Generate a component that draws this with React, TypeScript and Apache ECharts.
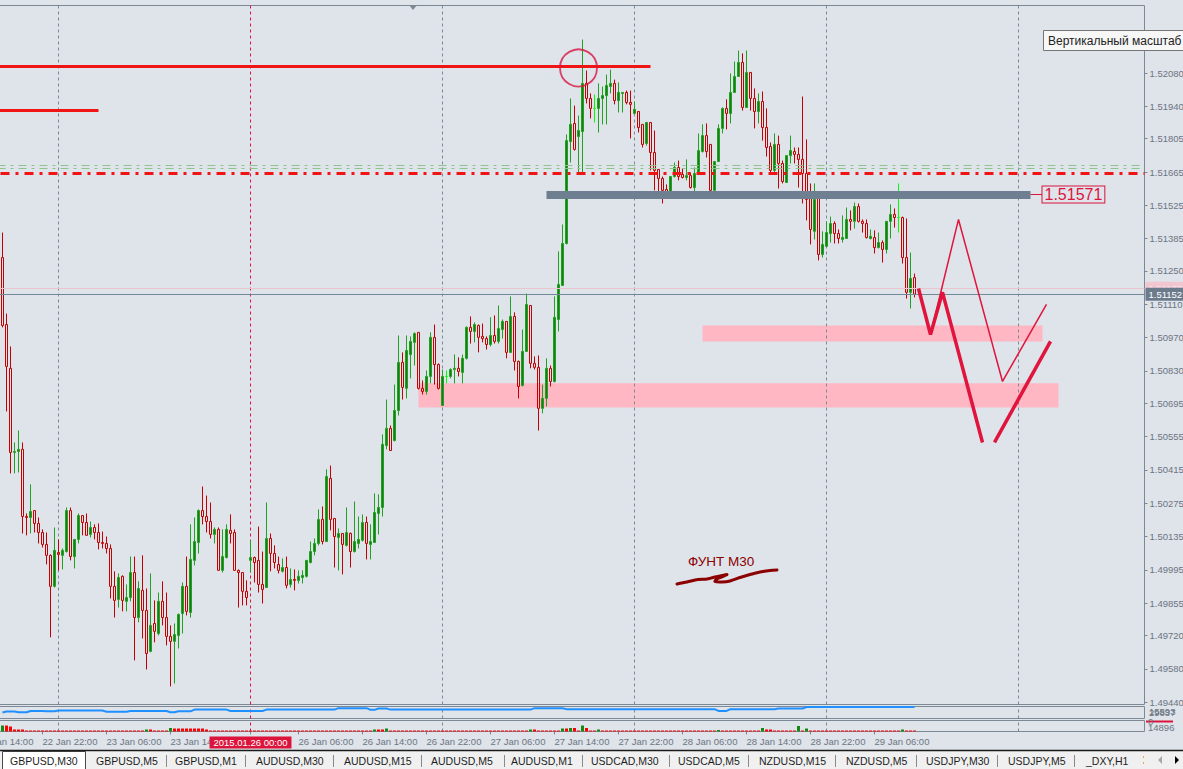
import React, { useEffect, useRef } from "react";
import * as echarts from "echarts";

const OX = 24; // the chart container starts 24px left of the page so that the cut "22 Jan 14:00" label can exist
const LEAD = 6; // empty slots before the first candle
const TOTAL = 292; // category slots (4px each)

const FONT = "'Liberation Sans', Arial, sans-serif";
const C_BG = "#dfe3ea";
const C_FRAME = "#7d8895";
const C_TEXT = "#6b7581";

// right price scale tick labels
const priceTickLabels = [
  "1.52080", "1.51940", "1.51805", "1.51665", "1.51525", "1.51385", "1.51250",
  "1.51110", "1.50970", "1.50830", "1.50695", "1.50555", "1.50415", "1.50275",
  "1.50135", "1.49995", "1.49855", "1.49720", "1.49580", "1.49440",
];
const priceMin = 1.4943;
const priceMax = 1.52364;

// GBPUSD M30 candles [open, close, low, high], first candle = 22 Jan 17:00
const ohlc: number[][] = [
  [1.51306,1.51021,1.51013,1.51411],[1.51025,1.50849,1.50660,1.51071],[1.50841,1.50488,1.50400,1.50933],[1.50488,1.50492,1.50400,1.50530],
  [1.50492,1.50501,1.50404,1.50580],[1.50501,1.50219,1.50148,1.50530],[1.50219,1.50215,1.50140,1.50232],[1.50215,1.50240,1.50148,1.50354],
  [1.50244,1.50190,1.50152,1.50244],[1.50190,1.50152,1.50106,1.50215],[1.50152,1.50102,1.50089,1.50165],[1.50102,1.50056,1.50018,1.50152],
  [1.50056,1.49926,1.49712,1.50060],[1.49926,1.50077,1.49921,1.50173],[1.50068,1.50060,1.49993,1.50123],[1.50056,1.50077,1.49997,1.50085],
  [1.50072,1.50244,1.50068,1.50257],[1.50244,1.50051,1.50035,1.50257],[1.50051,1.50123,1.50001,1.50123],[1.50123,1.50223,1.50106,1.50232],
  [1.50223,1.50194,1.50140,1.50223],[1.50194,1.50140,1.50140,1.50232],[1.50144,1.50173,1.50131,1.50198],[1.50173,1.50152,1.50123,1.50186],
  [1.50152,1.50110,1.50081,1.50190],[1.50110,1.50106,1.50085,1.50156],[1.50106,1.50085,1.50064,1.50135],[1.50085,1.49926,1.49875,1.50102],
  [1.49926,1.49867,1.49795,1.49989],[1.49871,1.49963,1.49837,1.49980],[1.49968,1.49867,1.49821,1.49972],[1.49863,1.49879,1.49821,1.49934],
  [1.49879,1.49984,1.49863,1.50051],[1.49984,1.49795,1.49615,1.50051],[1.49795,1.49917,1.49775,1.49947],[1.49909,1.49825,1.49707,1.50056],
  [1.49825,1.49644,1.49577,1.49917],[1.49653,1.49762,1.49649,1.49980],[1.49770,1.49737,1.49691,1.49867],[1.49728,1.49863,1.49720,1.49900],
  [1.49863,1.49795,1.49762,1.49947],[1.49795,1.49716,1.49678,1.49900],[1.49716,1.49695,1.49506,1.49762],[1.49695,1.49724,1.49518,1.49770],
  [1.49720,1.49808,1.49665,1.49812],[1.49812,1.49926,1.49728,1.49942],[1.49926,1.49821,1.49804,1.50051],[1.49816,1.50039,1.49795,1.50186],
  [1.50035,1.50114,1.50014,1.50215],[1.50110,1.50244,1.50064,1.50249],[1.50244,1.50219,1.50186,1.50345],[1.50219,1.50198,1.50152,1.50307],
  [1.50198,1.50144,1.50127,1.50278],[1.50144,1.50165,1.50106,1.50173],[1.50165,1.49993,1.49993,1.50173],[1.49993,1.50051,1.49984,1.50165],
  [1.50047,1.50165,1.50043,1.50186],[1.50161,1.50148,1.50106,1.50228],[1.50152,1.49993,1.49993,1.50165],[1.49993,1.49984,1.49837,1.49997],
  [1.49984,1.49905,1.49846,1.49984],[1.49905,1.49879,1.49846,1.49951],[1.50035,1.50047,1.49984,1.50119],[1.50047,1.50026,1.49942,1.50051],
  [1.50035,1.49934,1.49900,1.50177],[1.49934,1.49913,1.49854,1.50072],[1.49921,1.50127,1.49921,1.50278],[1.50127,1.50064,1.49989,1.50148],
  [1.50064,1.50026,1.50001,1.50098],[1.50018,1.49993,1.49980,1.50051],[1.49989,1.50005,1.49984,1.50043],[1.50005,1.49930,1.49917,1.50051],
  [1.49934,1.49955,1.49921,1.50001],[1.49955,1.49951,1.49909,1.49997],[1.49951,1.49968,1.49938,1.49993],[1.49963,1.49972,1.49938,1.49993],
  [1.49968,1.50035,1.49963,1.50035],[1.50026,1.50072,1.50022,1.50114],[1.50072,1.50106,1.50056,1.50127],[1.50106,1.50207,1.50098,1.50249],
  [1.50207,1.50114,1.50102,1.50261],[1.50114,1.50387,1.50114,1.50417],[1.50379,1.50207,1.50161,1.50433],[1.50211,1.50135,1.50005,1.50211],
  [1.50131,1.50148,1.49993,1.50169],[1.50148,1.50102,1.49976,1.50148],[1.50098,1.50152,1.50093,1.50257],[1.50148,1.50072,1.50005,1.50152],
  [1.50072,1.50114,1.50068,1.50282],[1.50106,1.50123,1.50085,1.50219],[1.50119,1.50194,1.50114,1.50228],[1.50194,1.50106,1.50039,1.50219],
  [1.50102,1.50114,1.50039,1.50186],[1.50110,1.50236,1.50110,1.50316],[1.50232,1.50257,1.50144,1.50312],[1.50257,1.50522,1.50219,1.50564],
  [1.50517,1.50589,1.50501,1.50710],[1.50589,1.50496,1.50496,1.50601],[1.50538,1.50664,1.50534,1.50773],[1.50664,1.50866,1.50643,1.50979],
  [1.50866,1.50761,1.50710,1.50908],[1.50757,1.50916,1.50715,1.50979],[1.50899,1.50954,1.50799,1.50975],[1.50950,1.50987,1.50853,1.50992],
  [1.50992,1.50757,1.50752,1.50992],[1.50757,1.50744,1.50731,1.50790],[1.50744,1.50807,1.50731,1.50832],[1.50807,1.50971,1.50778,1.50992],
  [1.50971,1.50857,1.50773,1.51025],[1.50857,1.50757,1.50752,1.50862],[1.50685,1.50807,1.50685,1.50836],[1.50807,1.50807,1.50778,1.50832],
  [1.50807,1.50836,1.50799,1.50841],[1.50836,1.50841,1.50778,1.50899],[1.50841,1.50828,1.50807,1.50887],[1.50824,1.50883,1.50778,1.50899],
  [1.50883,1.51013,1.50878,1.51017],[1.51013,1.50996,1.50945,1.51059],[1.50996,1.51025,1.50950,1.51034],[1.51021,1.50971,1.50908,1.51025],
  [1.50975,1.50966,1.50950,1.51029],[1.50966,1.50941,1.50920,1.50975],[1.50941,1.50979,1.50933,1.51055],[1.50979,1.50954,1.50945,1.51063],
  [1.50954,1.51008,1.50945,1.51105],[1.51004,1.51038,1.50966,1.51046],[1.51038,1.50908,1.50883,1.51038],[1.50908,1.51059,1.50908,1.51143],
  [1.51059,1.50870,1.50832,1.51076],[1.50870,1.50765,1.50715,1.50874],[1.50769,1.50912,1.50765,1.51004],[1.50912,1.51109,1.50912,1.51155],
  [1.51105,1.50862,1.50841,1.51105],[1.50862,1.50845,1.50836,1.50891],[1.50845,1.50673,1.50580,1.50895],[1.50673,1.50715,1.50652,1.50773],
  [1.50715,1.50841,1.50681,1.50883],[1.50841,1.50786,1.50765,1.50853],[1.50786,1.51055,1.50782,1.51143],[1.51046,1.51193,1.50996,1.51332],
  [1.51189,1.51365,1.51189,1.51445],[1.51365,1.51797,1.51361,1.51823],[1.51793,1.51865,1.51705,1.51974],[1.51869,1.51760,1.51755,1.51944],
  [1.51814,1.51839,1.51659,1.51902],[1.51835,1.52037,1.51659,1.52221],[1.52037,1.51974,1.51953,1.52091],[1.51974,1.51932,1.51890,1.51995],
  [1.51932,1.51932,1.51873,1.51990],[1.51932,1.51974,1.51831,1.52037],[1.51974,1.51986,1.51865,1.52024],[1.51986,1.52028,1.51865,1.52074],
  [1.52024,1.52037,1.51995,1.52095],[1.52037,1.51965,1.51949,1.52053],[1.51965,1.51999,1.51915,1.52041],[1.51995,1.51999,1.51915,1.51999],
  [1.51999,1.51957,1.51949,1.52007],[1.51957,1.51949,1.51806,1.52007],[1.51911,1.51928,1.51911,1.51961],[1.51919,1.51852,1.51831,1.51919],
  [1.51865,1.51781,1.51768,1.51865],[1.51785,1.51873,1.51776,1.51873],[1.51873,1.51747,1.51672,1.51873],[1.51747,1.51672,1.51588,1.51839],
  [1.51676,1.51638,1.51575,1.51676],[1.51638,1.51588,1.51533,1.51646],[1.51592,1.51583,1.51558,1.51613],[1.51583,1.51646,1.51575,1.51646],
  [1.51646,1.51684,1.51642,1.51705],[1.51684,1.51646,1.51630,1.51713],[1.51655,1.51642,1.51638,1.51680],[1.51642,1.51650,1.51630,1.51718],
  [1.51650,1.51600,1.51596,1.51663],[1.51600,1.51659,1.51558,1.51684],[1.51659,1.51755,1.51659,1.51827],[1.51751,1.51818,1.51747,1.51865],
  [1.51818,1.51751,1.51726,1.51869],[1.51781,1.51588,1.51579,1.51781],[1.51588,1.51709,1.51588,1.51709],[1.51709,1.51848,1.51709,1.51865],
  [1.51848,1.51932,1.51827,1.51936],[1.51932,1.51911,1.51844,1.51970],[1.51911,1.51999,1.51869,1.52079],[1.51999,1.52066,1.51999,1.52129],
  [1.52066,1.52125,1.52066,1.52175],[1.52125,1.51936,1.51923,1.52163],[1.51936,1.52083,1.51936,1.52175],[1.52083,1.51974,1.51923,1.52083],
  [1.51974,1.51919,1.51848,1.52016],[1.51919,1.51961,1.51869,1.51995],[1.51961,1.51852,1.51797,1.52003],[1.51852,1.51768,1.51730,1.51932],
  [1.51772,1.51672,1.51659,1.51789],[1.51672,1.51781,1.51659,1.51827],[1.51781,1.51701,1.51596,1.51818],[1.51701,1.51625,1.51617,1.51713],
  [1.51621,1.51734,1.51621,1.51734],[1.51734,1.51755,1.51701,1.51818],[1.51751,1.51739,1.51701,1.51768],[1.51739,1.51718,1.51600,1.51768],
  [1.51718,1.51659,1.51533,1.51982],[1.51659,1.51550,1.51462,1.51802],[1.51554,1.51424,1.51361,1.51617],[1.51416,1.51550,1.51382,1.51617],
  [1.51554,1.51319,1.51294,1.51571],[1.51319,1.51361,1.51306,1.51416],[1.51353,1.51411,1.51353,1.51458],[1.51407,1.51449,1.51369,1.51478],
  [1.51449,1.51407,1.51365,1.51458],[1.51407,1.51386,1.51365,1.51424],[1.51382,1.51390,1.51369,1.51483],[1.51386,1.51466,1.51386,1.51516],
  [1.51466,1.51458,1.51420,1.51504],[1.51458,1.51520,1.51428,1.51537],[1.51520,1.51458,1.51453,1.51533],[1.51458,1.51449,1.51411,1.51466],
  [1.51449,1.51390,1.51386,1.51466],[1.51386,1.51395,1.51382,1.51424],[1.51390,1.51348,1.51323,1.51420],[1.51348,1.51369,1.51344,1.51411],
  [1.51369,1.51340,1.51285,1.51378],[1.51340,1.51458,1.51323,1.51458],[1.51458,1.51487,1.51386,1.51529],[1.51487,1.51474,1.51432,1.51512],
  [1.51474,1.51474,1.51411,1.51617],[1.51474,1.51306,1.51281,1.51478],[1.51306,1.51160,1.51134,1.51470],[1.51160,1.51218,1.51092,1.51327],
  [1.51222,1.51152,1.51139,1.51239],
];
const limeCandles = [111, 148, 224];

// upper indicator (blue line), runs of [first candle, level 0..100]
const blueRuns = [
  [0, 50], [1, 59], [4, 52], [7, 63], [11, 60], [14, 66], [26, 57], [32, 63], [42, 52], [44, 60],
  [48, 74], [57, 63], [66, 74], [84, 86], [92, 72], [94, 83], [97, 74], [133, 86], [141, 78],
  [179, 63], [182, 78], [194, 83], [201, 95],
];
// volumes, runs of [first candle, volume]
const volumeRuns = [
  [0, 8100], [2, 6750], [3, 2700], [6, 1350], [36, 2700], [38, 1350], [42, 4750], [43, 4050], [51, 2700],
  [52, 1350], [93, 2700], [96, 4050], [97, 1350], [132, 2700], [134, 1350], [140, 4050], [142, 4750],
  [144, 1350], [145, 8100], [146, 4750], [147, 1350], [149, 2700], [150, 1350], [179, 2000], [180, 1350],
  [190, 4750], [191, 2700], [193, 1350], [199, 7450], [200, 1350], [201, 4050], [202, 1350], [225, 2700], [226, 1350],
];
const volumeMax = 14896;

// time axis
const timeTickCandles = [-6, 10, 26, 42, 62, 74, 90, 106, 122, 138, 154, 170, 186, 202, 218];
const selectedCandle = 62; // 2015.01.26 00:00
const periodSeparators = [14, 110, 158, 206, 254];

// drawn objects (candle index, price)
const resistanceTop = { price: 1.52108, end: 162 };
const resistanceShort = { price: 1.51923, end: 24 };
const greenLevels = [1.51693, 1.51682];
const redDashLevel = 1.5166;
const support = { price: 1.51571, start: 136, end: 257, labelEnd: 260 };
const bid = 1.51152;
const ask = 1.51177;
const zones = [
  { from: 175, to: 260, top: 1.51021, bottom: 1.50954 },
  { from: 104, to: 264, top: 1.50778, bottom: 1.50677 },
];
const zigThickA = [[229, 1.51176], [232, 1.50983], [235, 1.5116], [245, 1.5053]];
const zigThickB = [[248, 1.5053], [262, 1.50954]];
const zigThin = [[232, 1.50983], [239, 1.51466], [250, 1.50786], [261, 1.51109]];
const circlePoint = [144, 1.52102];

const tabs: [string, number][] = [
  ["GBPUSD,M30", 10], ["GBPUSD,M5", 96], ["GBPUSD,M1", 175], ["AUDUSD,M30", 256], ["AUDUSD,M15", 344],
  ["AUDUSD,M5", 431], ["AUDUSD,M1", 511], ["USDCAD,M30", 591], ["USDCAD,M5", 678], ["NZDUSD,M15", 759],
  ["NZDUSD,M5", 846], ["USDJPY,M30", 926], ["USDJPY,M5", 1008], ["_DXY,H1", 1086],
];
const tabSeparators = [166, 245, 333, 421, 504, 582, 669, 748, 835, 916, 997, 1074];
const squiggle = [
  [677, 584], [687, 582], [698, 579.5], [707, 579], [713, 577.5], [720, 576], [727, 574.5], [723, 576.5],
  [717, 579], [715, 581.5], [722, 582], [730, 581], [740, 577.5], [750, 574.5], [760, 572], [770, 570.5], [777, 570],
];

const MONTHS = ["Jan", "Feb", "Mar", "Apr", "May", "Jun", "Jul", "Aug", "Sep", "Oct", "Nov", "Dec"];
const pad = (n: number) => String(n).padStart(2, "0");

function buildCategories() {
  const base = Date.UTC(2015, 0, 22, 14, 0); // slot 0 (candle -6)
  const weekend = Date.UTC(2015, 0, 24, 0, 0);
  const out: any[] = [];
  for (let ci = 0; ci < TOTAL; ci++) {
    let t = base + ci * 1800000;
    if (t >= weekend) t += 2 * 86400000;
    const d = new Date(t);
    const hm = `${pad(d.getUTCHours())}:${pad(d.getUTCMinutes())}`;
    if (ci === selectedCandle + LEAD) {
      out.push({
        value: `${d.getUTCFullYear()}.${pad(d.getUTCMonth() + 1)}.${pad(d.getUTCDate())} ${hm}`,
        textStyle: { align: "center", backgroundColor: "#dc143c", color: "#ffffff", padding: [1, 4, 1, 4] },
      });
    } else {
      out.push(`${d.getUTCDate()} ${MONTHS[d.getUTCMonth()]} ${hm}`);
    }
  }
  return out;
}

function expandRuns(runs: number[][], n: number) {
  const out: number[] = [];
  let r = 0;
  for (let i = 0; i < n; i++) {
    while (r + 1 < runs.length && runs[r + 1][0] <= i) r++;
    out.push(runs[r][1]);
  }
  return out;
}

function buildOption() {
  const cats = buildCategories();
  const labelSet = new Set(timeTickCandles.map((i) => i + LEAD));
  const labelInterval = (idx: number) => labelSet.has(idx);
  const gx = (x: number) => x + OX;

  const lime = { color: "#00ff00", color0: "#00ff00", borderColor: "#00ff00", borderColor0: "#00ff00" };
  const candleData: any[] = [];
  const blue = expandRuns(blueRuns, ohlc.length);
  const vols = expandRuns(volumeRuns, ohlc.length);
  const blueData: any[] = [];
  const volData: any[] = [];
  for (let ci = 0; ci < TOTAL; ci++) {
    const i = ci - LEAD;
    if (i >= 0 && i < ohlc.length) {
      candleData.push(limeCandles.includes(i) ? { value: ohlc[i], itemStyle: lime } : ohlc[i]);
      blueData.push(blue[i]);
      const up = i > 0 && vols[i] > vols[i - 1];
      volData.push({ value: vols[i], itemStyle: { color: up || i === 0 ? "#138a13" : "#ff0000" } });
    } else {
      candleData.push("-");
      blueData.push("-");
      volData.push("-");
    }
  }

  const vLines = [
    ...periodSeparators.map((i) => ({ xAxis: i + LEAD, lineStyle: { color: C_FRAME, type: [3, 3], width: 1 } })),
    { xAxis: selectedCandle + LEAD, lineStyle: { color: "#e0143c", type: [3, 3], width: 1 } },
  ];
  const vMark = { silent: true, symbol: ["none", "none"], z: 1, precision: 5, label: { show: false }, data: vLines };

  const priceLabel = { fontSize: 9.5, fontFamily: FONT, padding: [2, 4, 1, 3], distance: 1, position: "end" };
  const hLines: any[] = [
    [
      { coord: [0, resistanceTop.price], lineStyle: { color: "#f01414", width: 3, type: "solid" } },
      { coord: [resistanceTop.end + LEAD, resistanceTop.price] },
    ],
    [
      { coord: [0, resistanceShort.price], lineStyle: { color: "#f01414", width: 3, type: "solid" } },
      { coord: [resistanceShort.end + LEAD, resistanceShort.price] },
    ],
    ...greenLevels.map((p) => ({ yAxis: p, lineStyle: { color: "#8cc48c", width: 1, type: [8, 5, 3, 5] } })),
    { yAxis: redDashLevel, lineStyle: { color: "#f01414", width: 3, type: [9, 6, 3, 6] } },
    {
      yAxis: ask,
      lineStyle: { color: "#ebc5ce", width: 1, type: "solid" },
      label: { show: true, ...priceLabel, formatter: ask.toFixed(5), color: "#f8e4e9", backgroundColor: "#f1c6d0" },
    },
    {
      yAxis: bid,
      lineStyle: { color: "#74869a", width: 1, type: "solid" },
      label: { show: true, ...priceLabel, formatter: bid.toFixed(5), color: "#ffffff", backgroundColor: "#6c7b8c" },
    },
    [
      { coord: [support.start + LEAD, support.price], lineStyle: { color: "#6e7f92", width: 8, type: "solid" } },
      { coord: [support.end + LEAD, support.price] },
    ],
    [
      {
        coord: [support.end + LEAD, support.price],
        lineStyle: { color: "#dc143c", width: 1, type: "solid" },
        label: {
          show: true, position: "end", distance: 0, formatter: support.price.toFixed(5), fontSize: 16,
          fontFamily: FONT, color: "#dc143c", backgroundColor: C_BG, borderColor: "#dc143c", borderWidth: 1,
          padding: [0, 2, 0, 2], lineHeight: 16,
        },
      },
      { coord: [support.labelEnd + LEAD, support.price] },
    ],
  ];

  const tabEls: any[] = [
    { type: "rect", shape: { x: 0, y: 751, width: 1183 + OX, height: 18 }, style: { fill: "#f0f0f0" }, z: 50 },
    { type: "rect", shape: { x: gx(2) + 0.5, y: 751.5, width: 83, height: 18 }, style: { fill: "#ffffff", stroke: "#4a4a4a", lineWidth: 1 }, z: 51 },
    { type: "line", shape: { x1: 0, y1: 750.5, x2: 1183 + OX, y2: 750.5 }, style: { stroke: "#1a1a1a", lineWidth: 1.5 }, z: 52 },
    ...tabSeparators.map((x) => ({
      type: "line", shape: { x1: gx(x) + 0.5, y1: 755, x2: gx(x) + 0.5, y2: 767 }, style: { stroke: "#8a8a8a", lineWidth: 1 }, z: 52,
    })),
    ...tabs.map(([t, x]) => ({
      type: "text", x: gx(x), y: 760.5,
      style: { text: t, fontFamily: FONT, fontSize: 10.5, fill: "#1e1e1e", verticalAlign: "middle" }, z: 53,
    })),
    { type: "rect", shape: { x: gx(1143), y: 756, width: 1, height: 2 }, style: { fill: "#f0a040" }, z: 53 },
    { type: "rect", shape: { x: gx(1143), y: 762, width: 1, height: 2 }, style: { fill: "#f0a040" }, z: 53 },
    { type: "polygon", shape: { points: [[gx(1162), 756], [gx(1162), 764], [gx(1158), 760]] }, style: { fill: "#a8a8a8" }, z: 53 },
    { type: "polygon", shape: { points: [[gx(1175), 756], [gx(1175), 764], [gx(1179), 760]] }, style: { fill: "#000000" }, z: 53 },
  ];

  const smallText = (text: string, x: number, y: number) => ({
    type: "text", x: gx(x), y, style: { text, fontFamily: FONT, fontSize: 9.5, fill: C_TEXT, verticalAlign: "middle" }, z: 40,
  });

  const gridBase = { left: 0.5, width: 1168, show: true, borderColor: C_FRAME, borderWidth: 1, backgroundColor: "transparent", containLabel: false, outerBoundsMode: "none" };

  return {
    animation: false,
    backgroundColor: C_BG,
    textStyle: { fontFamily: FONT },
    grid: [
      { ...gridBase, top: 5.5, height: 699 },
      { ...gridBase, top: 706.5, height: 12 },
      { ...gridBase, top: 720.5, height: 11 },
    ],
    xAxis: [
      { type: "category", gridIndex: 0, data: cats, boundaryGap: true, show: false },
      { type: "category", gridIndex: 1, data: cats, boundaryGap: true, show: false },
      {
        type: "category", gridIndex: 2, data: cats, boundaryGap: true,
        axisLine: { show: false },
        axisTick: { show: true, alignWithLabel: true, interval: labelInterval, length: 3, lineStyle: { color: C_FRAME } },
        axisLabel: { show: true, interval: labelInterval, align: "left", margin: 5, fontSize: 9.5, color: C_TEXT, fontFamily: FONT, hideOverlap: false },
        splitLine: { show: false },
      },
    ],
    yAxis: [
      {
        type: "value", gridIndex: 0, position: "right", min: priceMin, max: priceMax,
        splitLine: { show: false }, axisLine: { show: false },
        axisTick: { show: true, length: 3, customValues: priceTickLabels.map(Number), lineStyle: { color: C_FRAME } },
        axisLabel: {
          show: true, customValues: priceTickLabels.map(Number), formatter: (v: number) => v.toFixed(5),
          margin: 5, fontSize: 9.5, color: C_TEXT, fontFamily: FONT,
        },
      },
      { type: "value", gridIndex: 1, min: 0, max: 100, show: false },
      { type: "value", gridIndex: 2, min: 0, max: volumeMax, show: false },
    ],
    series: [
      {
        name: "zones", type: "line", xAxisIndex: 0, yAxisIndex: 0, data: [], z: 1, silent: true,
        markArea: {
          silent: true, z: 1,
          itemStyle: { color: "#ffb7c3", opacity: 1 },
          data: zones.map((zn) => [{ coord: [zn.from + LEAD, zn.top] }, { coord: [zn.to + LEAD, zn.bottom] }]),
        },
        markLine: vMark,
      },
      {
        name: "GBPUSD", type: "candlestick", xAxisIndex: 0, yAxisIndex: 0, z: 3, barWidth: 2,
        data: candleData,
        itemStyle: { color: "#177d17", color0: "rgba(0,0,0,0)", borderColor: "#22a022", borderColor0: "#c40000", borderWidth: 1 },
      },
      {
        name: "levels", type: "line", xAxisIndex: 0, yAxisIndex: 0, data: [], z: 5, silent: true,
        markLine: { silent: true, symbol: ["none", "none"], z: 5, precision: 5, label: { show: false }, data: hLines },
      },
      {
        name: "zigA", type: "line", xAxisIndex: 0, yAxisIndex: 0, z: 6, symbol: "none", silent: true,
        data: zigThickA.map(([i, p]) => [i + LEAD, p]), lineStyle: { color: "#e0143c", width: 3.5 },
      },
      {
        name: "zigB", type: "line", xAxisIndex: 0, yAxisIndex: 0, z: 6, symbol: "none", silent: true,
        data: zigThickB.map(([i, p]) => [i + LEAD, p]), lineStyle: { color: "#e0143c", width: 3.5 },
      },
      {
        name: "zigThin", type: "line", xAxisIndex: 0, yAxisIndex: 0, z: 6, symbol: "none", silent: true,
        data: zigThin.map(([i, p]) => [i + LEAD, p]), lineStyle: { color: "#e0143c", width: 1.5 },
      },
      {
        name: "circle", type: "scatter", xAxisIndex: 0, yAxisIndex: 0, z: 6, silent: true, symbol: "circle", symbolSize: 37,
        data: [[circlePoint[0] + LEAD, circlePoint[1]]],
        itemStyle: { color: "rgba(0,0,0,0)", borderColor: "#d8163e", borderWidth: 1.8 },
      },
      {
        name: "indicator", type: "line", xAxisIndex: 1, yAxisIndex: 1, symbol: "none", silent: true, z: 3,
        data: blueData, lineStyle: { color: "#1e90ff", width: 2 },
        markLine: vMark,
      },
      {
        name: "volumes", type: "bar", xAxisIndex: 2, yAxisIndex: 2, barWidth: 3, silent: true, z: 3,
        data: volData,
        markLine: vMark,
      },
    ],
    graphic: {
      elements: [
        { type: "polygon", shape: { points: [[gx(409), 5], [gx(417), 5], [gx(413), 10]] }, style: { fill: C_FRAME }, z: 40 },
        { type: "rect", shape: { x: gx(1043) + 0.5, y: 30.5, width: 160, height: 20 }, style: { fill: "#f7f7f7", stroke: "#767676", lineWidth: 1 }, z: 40 },
        { type: "text", x: gx(1048), y: 41, style: { text: "Вертикальный масштаб", fontFamily: FONT, fontSize: 12, fill: "#222222", verticalAlign: "middle" }, z: 41 },
        smallText("15593", 1149, 711.5),
        smallText("29837", 1149, 712),
        { type: "rect", shape: { x: gx(1146), y: 720.5, width: 27, height: 2 }, style: { fill: "#dc143c" }, z: 40 },
        smallText("0", 1148, 721.5),
        smallText("14896", 1148, 727.5),
        {
          type: "text", x: gx(688), y: 561,
          style: { text: "ФУНТ М30", fontFamily: FONT, fontSize: 13.5, fill: "#8b0000", verticalAlign: "middle" }, z: 40,
        },
        {
          type: "polyline", shape: { points: squiggle.map(([x, y]) => [gx(x), y]), smooth: 0.3 },
          style: { stroke: "#8b0000", lineWidth: 3, fill: null, lineCap: "round" }, z: 40,
        },
        ...tabEls,
      ],
    },
  };
}

export default function App() {
  const ref = useRef<HTMLDivElement>(null);
  useEffect(() => {
    if (!ref.current) return;
    const chart = echarts.init(ref.current, null, { renderer: "svg" });
    chart.setOption(buildOption() as any);
    return () => chart.dispose();
  }, []);
  return (
    <div
      ref={ref}
      style={{ position: "fixed", left: -OX, top: 0, width: 1183 + OX, height: 769, overflow: "hidden" }}
    />
  );
}
